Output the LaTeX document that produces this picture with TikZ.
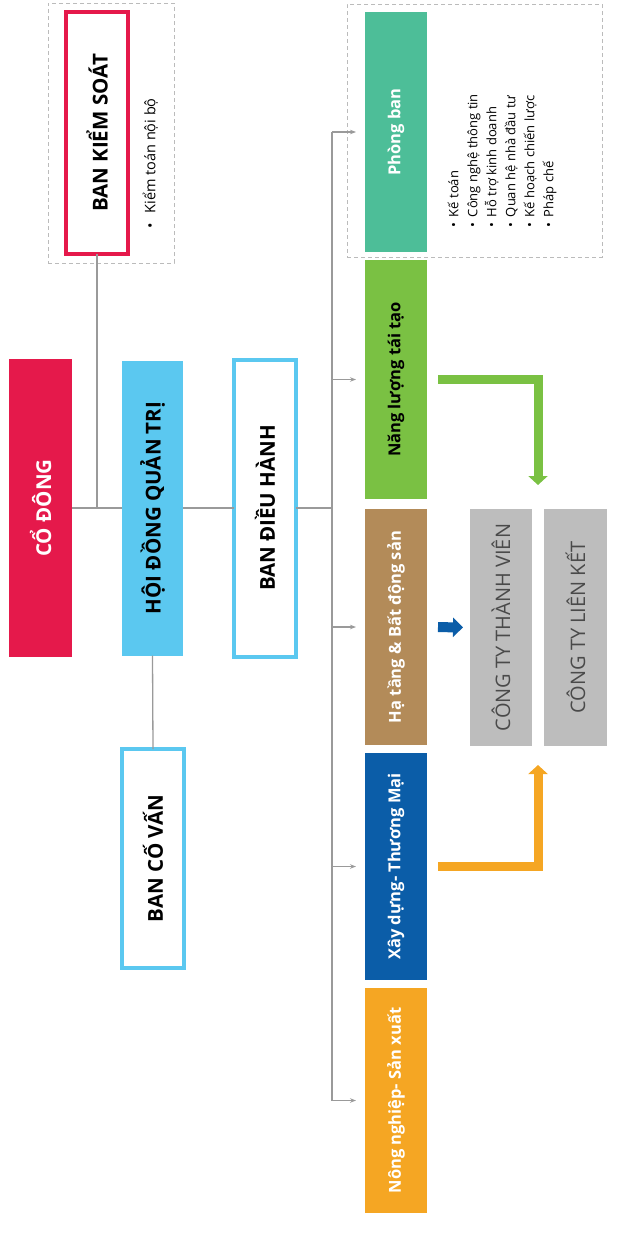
\documentclass[tikz,border=0pt]{standalone}
\usepackage{fontspec}
\usepackage{graphicx}
\setmainfont{Open Sans}
\usetikzlibrary{arrows.meta,calc}
\definecolor{cred}{HTML}{E5194B}
\definecolor{cblue}{HTML}{5BC8F0}
\definecolor{cteal}{HTML}{4DBE98}
\definecolor{cgreen}{HTML}{7AC143}
\definecolor{ctan}{HTML}{B38B59}
\definecolor{cnavy}{HTML}{0B5DA8}
\definecolor{corange}{HTML}{F5A623}
\definecolor{cgray}{HTML}{BDBDBD}
\definecolor{cline}{HTML}{9A9A9A}
\definecolor{cdash}{HTML}{BBBBBB}
\definecolor{ctext}{HTML}{4A4A4A}
\begin{document}
\begin{tikzpicture}[x=1pt,y=-1pt,
  box/.style={rectangle, inner sep=0pt, outer sep=0pt},
  fbox/.style={box, fill=#1, draw=none},
  obox/.style={box, draw=#1, line width=4pt, fill=white},
  dbox/.style={box, draw=cdash, dashed, line width=0.8pt, dash pattern=on 4pt off 3pt},
  bigtxt/.style={font=\bfseries\fontsize{20.5}{24}\selectfont},
  deptxt/.style={font=\bfseries\fontsize{16.5}{20}\selectfont},
  cotxt/.style={font=\fontsize{20}{24}\selectfont, text=ctext},
  conn/.style={draw=cline, line width=1.3pt},
  busarrow/.style={conn, -{Stealth[length=6pt,width=4.5pt]}, shorten >=9pt},
  fatarrow/.style={line width=9pt, line join=miter, -{Triangle[length=9pt,width=19pt]}}
]
\useasboundingbox (0,0) rectangle (626,1253);

% groups
\node[dbox, minimum width=126, minimum height=260] (ksgroup) at (111,133) {};
\node[dbox, minimum width=255, minimum height=253] (pbgroup) at (474.5,130.5) {};

% main boxes
\node[obox=cred, minimum width=62, minimum height=242, bigtxt] (kiemsoat) at (97,133) {\rotatebox{90}{BAN KIỂM SOÁT}};
\node[box, anchor=south west] (kiemtoan) at (142,228) {\rotatebox{90}{\fontsize{14.5}{19}\selectfont\begin{tabular}{@{}l@{}}\textbullet\hspace{9pt}Kiểm toán nội bộ\end{tabular}}};

\node[fbox=cred, minimum width=63, minimum height=298, bigtxt, text=white] (codong) at (40.5,508) {\rotatebox{90}{CỔ ĐÔNG}};
\node[fbox=cblue, minimum width=61, minimum height=295, bigtxt] (hdqt) at (152.5,508) {\rotatebox{90}{HỘI ĐỒNG QUẢN TRỊ}};
\node[obox=cblue, minimum width=62, minimum height=297, bigtxt] (bdh) at (265,508) {\rotatebox{90}{BAN ĐIỀU HÀNH}};
\node[obox=cblue, minimum width=62, minimum height=219, bigtxt] (bcv) at (153,858.5) {\rotatebox{90}{BAN CỐ VẤN}};

% departments
\node[fbox=cteal, minimum width=62, minimum height=240, deptxt, text=white] (phongban) at (396,132) {\rotatebox{90}{Phòng ban}};
\node[fbox=cgreen, minimum width=62, minimum height=239, deptxt, text=black] (nangluong) at (396,379.5) {\rotatebox{90}{Năng lượng tái tạo}};
\node[fbox=ctan, minimum width=62, minimum height=236, deptxt, text=white] (hatang) at (396,627) {\rotatebox{90}{Hạ tầng \& Bất động sản}};
\node[fbox=cnavy, minimum width=62, minimum height=227, deptxt, text=white] (xaydung) at (396,866.5) {\rotatebox{90}{Xây dựng- Thương Mại}};
\node[fbox=corange, minimum width=62, minimum height=225, deptxt, text=white] (nongnghiep) at (396,1100.5) {\rotatebox{90}{Nông nghiệp- Sản xuất}};

\node[box, anchor=south west] (pblist) at (445,227) {\rotatebox{90}{\fontsize{13}{19}\selectfont\begin{tabular}{@{}l@{}}
\textbullet\hspace{5pt}Kế toán\\
\textbullet\hspace{5pt}Công nghệ thông tin\\
\textbullet\hspace{5pt}Hỗ trợ kinh doanh\\
\textbullet\hspace{5pt}Quan hệ nhà đầu tư\\
\textbullet\hspace{5pt}Kế hoạch chiến lược\\
\textbullet\hspace{5pt}Pháp chế
\end{tabular}}};

% companies
\node[fbox=cgray, minimum width=62, minimum height=237, cotxt] (ctytv) at (501,627.5) {\rotatebox{90}{CÔNG TY THÀNH VIÊN}};
\node[fbox=cgray, minimum width=63, minimum height=237, cotxt] (ctylk) at (575.5,627.5) {\rotatebox{90}{CÔNG TY LIÊN KẾT}};

% connectors
\draw[conn] (codong.east) -- (hdqt.west);
\draw[conn] (hdqt.east) -- (bdh.west);
\draw[conn] (kiemsoat.south) -- (kiemsoat.south |- codong.east);
\draw[conn] (hdqt.south) -- (bcv.north);
\coordinate (bus) at (332,508);
\draw[conn] (bdh.east) -- (bus);
\draw[conn] (bus |- phongban.west) -- (bus |- nongnghiep.west);
\draw[busarrow] (bus |- phongban.west) -- (phongban.west);
\draw[busarrow] (bus |- nangluong.west) -- (nangluong.west);
\draw[busarrow] (bus |- hatang.west) -- (hatang.west);
\draw[busarrow] (bus |- xaydung.west) -- (xaydung.west);
\draw[busarrow] (bus |- nongnghiep.west) -- (nongnghiep.west);

% fat arrows
\coordinate (gaptop) at ($(ctytv.north east)!0.5!(ctylk.north west)$);
\coordinate (gapbot) at ($(ctytv.south east)!0.5!(ctylk.south west)$);
\draw[fatarrow, draw=cnavy, line width=10pt, -{Triangle[length=10pt,width=19pt]}, shorten <=11pt, shorten >=7pt] (hatang.east) -- (ctytv.west);
\draw[fatarrow, draw=cgreen, shorten <=11pt, shorten >=24pt] (nangluong.east) -| (gaptop);
\draw[fatarrow, draw=corange, shorten <=11pt, shorten >=19pt] (xaydung.east) -| (gapbot);
\end{tikzpicture}
\end{document}
